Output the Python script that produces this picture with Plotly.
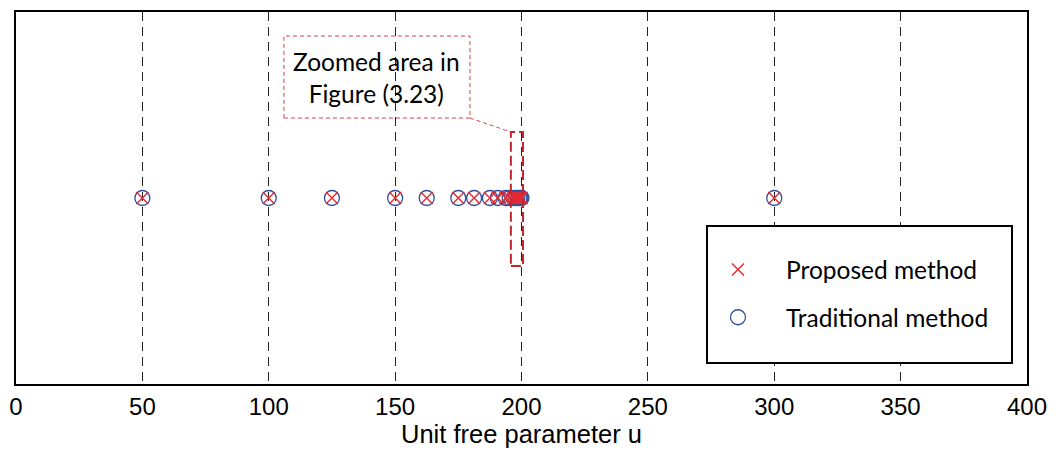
import plotly.graph_objects as go

# Values of u reached by each method
proposed_u = [50, 100, 125, 150, 162.5, 175, 181.25, 187.5, 190.6, 193.75,
              195.3, 196.9, 197.7, 198.4, 199.2, 199.6, 200, 300]
traditional_u = [50, 100, 125, 150, 162.5, 175, 181.25, 187.5, 190.6, 193.75,
                 195.3, 196.9, 197.7, 198.4, 199.2, 199.6, 200, 300]
x_ticks = [0, 50, 100, 150, 200, 250, 300, 350, 400]

fig = go.Figure()
fig.add_trace(go.Scatter(
    x=traditional_u, y=[0] * len(traditional_u), mode="markers",
    name="Traditional method", legendgroup="b", legendrank=2,
    marker=dict(symbol="circle-open", size=15, color="#2f4f9f",
                line=dict(width=1.3, color="#2f4f9f")),
))
fig.add_trace(go.Scatter(
    x=proposed_u, y=[0] * len(proposed_u), mode="markers",
    name="Proposed method", legendgroup="a", legendrank=1,
    marker=dict(symbol="x-thin", size=12, color="#e8282e",
                line=dict(width=1.4, color="#e8282e")),
))

# zoom window around u = 200
fig.add_shape(type="rect", x0=195.8, x1=200.6, y0=-0.365, y1=0.355,
              line=dict(color="#c0282d", width=2, dash="10px,4px"))
# callout box and connector
fig.add_shape(type="rect", x0=106.0, x1=179.6, y0=0.43, y1=0.871,
              line=dict(color="#d84048", width=1, dash="4px,3px"))
fig.add_shape(type="line", x0=179.6, y0=0.43, x1=195.8, y1=0.355,
              line=dict(color="#d84048", width=1, dash="4px,3px"))
fig.add_annotation(x=142.8, y=0.65, text="Zoomed area in<br>Figure (3.23)",
                   showarrow=False,
                   font=dict(family="Lato", size=24.5, color="black"))

# legend frame
fig.add_shape(type="rect", xref="paper", yref="paper",
              x0=(707 - 16) / 1011, x1=(1012 - 16) / 1011,
              y0=(384 - 363) / 372, y1=(384 - 226) / 372,
              line=dict(color="black", width=2), fillcolor="white", layer="above")

fig.update_layout(
    width=1059, height=452,
    margin=dict(l=16, r=32, t=12, b=68),
    plot_bgcolor="white", paper_bgcolor="white",
    showlegend=True,
    legend=dict(x=(690 - 16) / 1011, y=(384 - 247) / 372, xanchor="left", yanchor="top",
                bgcolor="rgba(0,0,0,0)", borderwidth=0, traceorder="grouped",
                tracegroupgap=13, itemwidth=86,
                font=dict(family="Lato", size=24.5, color="black")),
    xaxis=dict(range=[0, 400], tickvals=x_ticks, ticks="", automargin=False,
               showgrid=True, gridcolor="#222222", gridwidth=1, griddash="9px,6px",
               showline=True, linecolor="black", linewidth=2, mirror=True,
               zeroline=False,
               tickfont=dict(family="Liberation Sans, Arial", size=24, color="black"),
               title=dict(text="Unit free parameter u", standoff=6,
                          font=dict(family="Liberation Sans, Arial", size=25.5, color="black"))),
    yaxis=dict(range=[-1, 1], showticklabels=False, ticks="", showgrid=False,
               automargin=False,
               zeroline=False, showline=True, linecolor="black", linewidth=2, mirror=True),
)

fig.write_html("out.html")
